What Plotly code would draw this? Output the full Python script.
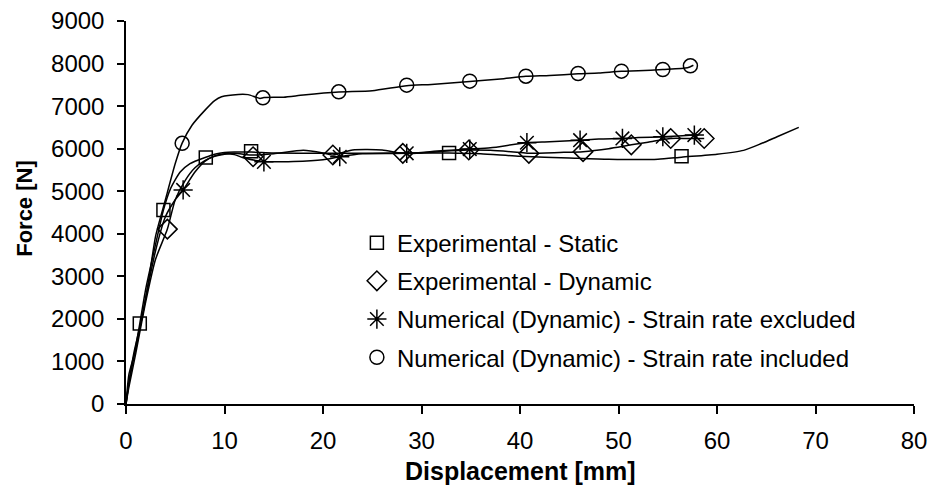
import plotly.graph_objects as go

# ---- data ----
static_x = [0, 0.3, 0.8, 1.4, 2, 3, 3.8, 4.5, 5.5, 6.5, 8.1, 9, 10, 11, 12.7, 15, 20, 25, 30, 32.8, 36, 40, 45, 49, 54, 56.4, 60, 62.7, 64.5, 66.1, 68.3]
static_y = [0, 500, 1100, 1890, 2700, 3750, 4560, 5050, 5450, 5650, 5800, 5870, 5910, 5920, 5920, 5900, 5890, 5895, 5900, 5900, 5880, 5820, 5780, 5750, 5750, 5800, 5870, 5960, 6120, 6280, 6500]
static_mx = [1.4, 3.8, 8.1, 12.7, 32.8, 56.4]
static_my = [1890, 4560, 5790, 5940, 5900, 5820]

dyn_x = [0, 0.3, 1, 2, 3, 4.2, 5, 6, 7, 8, 9, 10, 11, 12.9, 15, 18, 20, 21, 23, 26, 28.1, 30, 33, 34.8, 37, 40, 41, 44, 46.4, 49, 51.3, 53, 55.3, 57, 58.7]
dyn_y = [0, 400, 1200, 2400, 3400, 4110, 4800, 5250, 5550, 5720, 5820, 5870, 5890, 5850, 5880, 5960, 5900, 5850, 5970, 5970, 5890, 5900, 5950, 5970, 5960, 5910, 5890, 5910, 5930, 6000, 6090, 6150, 6240, 6240, 6240]
dyn_mx = [4.2, 12.9, 21.0, 28.1, 34.8, 40.9, 46.4, 51.3, 55.3, 58.7]
dyn_my = [4110, 5810, 5850, 5890, 5970, 5890, 5930, 6090, 6240, 6240]

exc_x = [0, 0.3, 1, 2, 3, 4, 5, 5.8, 7, 8, 9, 10, 11, 12, 14, 17, 20, 21.7, 24, 28.5, 32, 34.9, 37, 40.7, 43, 46.1, 48, 50.4, 52, 54.5, 57.7, 58.2]
exc_y = [0, 700, 1300, 2500, 3600, 4400, 4800, 5030, 5450, 5700, 5830, 5880, 5860, 5780, 5700, 5700, 5740, 5810, 5880, 5890, 5950, 5990, 6020, 6140, 6160, 6200, 6230, 6240, 6260, 6280, 6320, 6330]
exc_mx = [5.8, 14.0, 21.7, 28.5, 34.9, 40.7, 46.1, 50.4, 54.5, 57.7]
exc_my = [5030, 5690, 5810, 5890, 5990, 6140, 6200, 6240, 6280, 6320]

inc_x = [0, 0.3, 0.8, 1.6, 2.3, 3, 4, 5, 5.7, 6.7, 8, 9, 9.7, 11.4, 12.4, 13.6, 14, 16, 18, 21.6, 25, 28.5, 31, 34.9, 38, 40.6, 43, 45.9, 48, 50.3, 52, 54.5, 57, 57.6]
inc_y = [0, 500, 1200, 2000, 2900, 3940, 4800, 5650, 6130, 6550, 6900, 7130, 7220, 7275, 7270, 7180, 7200, 7210, 7260, 7330, 7360, 7480, 7510, 7580, 7640, 7700, 7720, 7760, 7780, 7820, 7830, 7860, 7900, 7960]
inc_mx = [5.7, 13.9, 21.6, 28.5, 34.9, 40.6, 45.9, 50.3, 54.5, 57.3]
inc_my = [6125, 7195, 7336, 7493, 7587, 7704, 7767, 7822, 7861, 7946]

names = ["Experimental - Static", "Experimental - Dynamic",
         "Numerical (Dynamic) - Strain rate excluded",
         "Numerical (Dynamic) - Strain rate included"]
x_ticks = [0, 10, 20, 30, 40, 50, 60, 70, 80]
y_ticks = [0, 1000, 2000, 3000, 4000, 5000, 6000, 7000, 8000, 9000]

FONT = "Liberation Sans, Arial, sans-serif"
series = [
    (static_x, static_y, static_mx, static_my, "square-open", 13),
    (dyn_x, dyn_y, dyn_mx, dyn_my, "diamond-open", 15),
    (exc_x, exc_y, exc_mx, exc_my, "asterisk-open", 16),
    (inc_x, inc_y, inc_mx, inc_my, "circle-open", 14),
]

fig = go.Figure()
for i, (lx, ly, mx, my, sym, sz) in enumerate(series):
    g = f"g{i}"
    fig.add_trace(go.Scatter(x=lx, y=ly, mode="lines", line=dict(color="black", width=1.5, shape="spline", smoothing=0.6),
                             legendgroup=g, showlegend=False, hoverinfo="skip"))
    fig.add_trace(go.Scatter(x=mx, y=my, mode="markers", name=names[i], legendgroup=g,
                             marker=dict(symbol=sym, size=sz, color="black", line=dict(color="black", width=1.5))))

fig.update_layout(
    width=929, height=478,
    margin=dict(l=118, r=23, t=13, b=82, autoexpand=False),
    paper_bgcolor="white", plot_bgcolor="white",
    font=dict(family=FONT, size=24, color="black"),
    showlegend=True,
    legend=dict(x=0.293, y=0.479, xanchor="left", yanchor="top", bgcolor="rgba(0,0,0,0)",
                traceorder="grouped", tracegroupgap=4, font=dict(size=24), itemwidth=30),
    xaxis=dict(range=[0, 80], tickvals=x_ticks, showgrid=False, zeroline=False, automargin=False,
               showline=True, linecolor="black", linewidth=1.5, ticklabeloverflow="allow",
               ticks="outside", ticklen=8, tickwidth=1.5, tickcolor="black",
               tickfont=dict(size=24), ticklabelstandoff=6),
    yaxis=dict(range=[0, 9000], tickvals=y_ticks, showgrid=False, zeroline=False, automargin=False,
               showline=True, linecolor="black", linewidth=1.5, ticklabeloverflow="allow",
               ticks="outside", ticklen=7, tickwidth=1.5, tickcolor="black",
               tickfont=dict(size=24), ticklabelstandoff=8),
    annotations=[
        dict(text="<b>Displacement [mm]</b>", xref="paper", yref="paper", x=0.5, y=-0.175,
             xanchor="center", yanchor="middle", showarrow=False, font=dict(size=25)),
        dict(text="<b>Force [N]</b>", xref="paper", yref="paper", x=-0.128, y=0.51, textangle=-90,
             xanchor="center", yanchor="middle", showarrow=False, font=dict(size=22)),
    ],
)

fig.write_html("out.html")
